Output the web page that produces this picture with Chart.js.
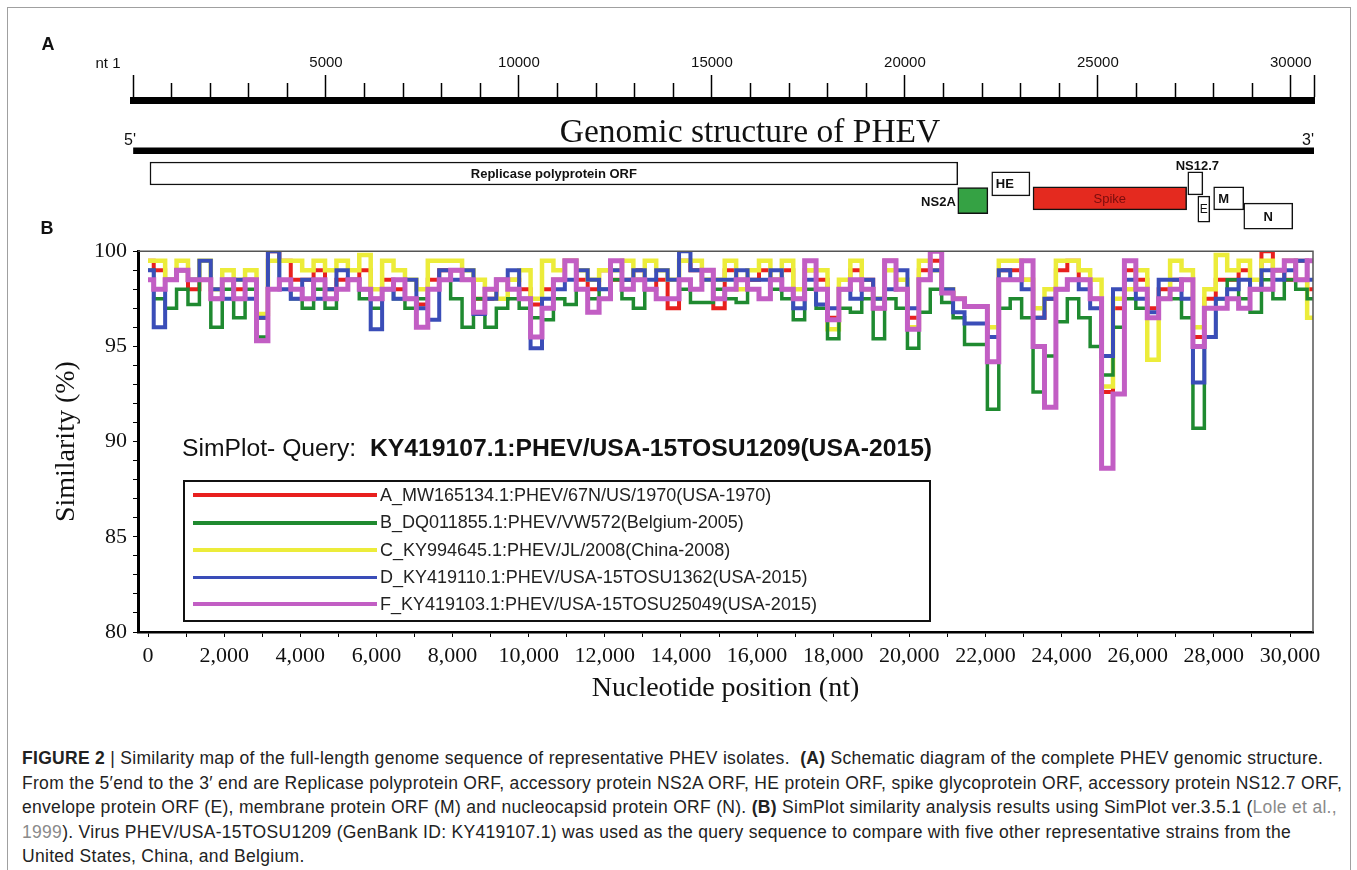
<!DOCTYPE html>
<html>
<head>
<meta charset="utf-8">
<script src="https://cdn.jsdelivr.net/npm/chart.js@4"></script>
<style>
  html, body { margin: 0; padding: 0; background: #fff; }
  body { width: 1357px; height: 870px; position: relative; overflow: hidden; font-family: "Liberation Sans", Arial, sans-serif; color: #111; }
  .frame { position: absolute; left: 7px; top: 7px; width: 1344px; height: 900px; border: 1px solid #a0a0a0; box-sizing: border-box; }
  canvas { position: absolute; left: 0; }
  .t { position: absolute; white-space: nowrap; line-height: 1; transform: translate(-50%, -50%); }
  .panel { font-weight: bold; font-size: 18px; }
  #query { position: absolute; left: 182px; top: 434px; font-size: 24.7px; white-space: nowrap; }
  #legend { position: absolute; left: 183px; top: 480px; width: 748px; height: 142px; border: 2px solid #111; box-sizing: border-box; }
  .row { position: absolute; left: 8px; height: 20px; white-space: nowrap; font-size: 18px; color: #222; }
  .row i { display: inline-block; width: 184px; vertical-align: middle; margin-right: 3px; }
  .row span { vertical-align: middle; }
  #caption { position: absolute; left: 22px; top: 746px; font-size: 17.5px; letter-spacing: 0.3px; line-height: 24.5px; color: #222; white-space: nowrap; }
  #caption .ref { color: #8a8a8a; }
</style>
</head>
<body>
<div class="frame"></div>

<canvas id="genome" width="1357" height="240" style="top:0"></canvas>
<canvas id="simplot" width="1357" height="480" style="top:232px"></canvas>

<div class="t panel" style="left:48px; top:44px">A</div>
<div class="t panel" style="left:47px; top:228px">B</div>
<div class="t" style="left:108px; top:62px; font-size:15px">nt 1</div>
<div class="t" style="left:750px; top:131px; font-family:'Liberation Serif', serif; font-size:33.5px">Genomic structure of PHEV</div>
<div class="t" style="left:130px; top:140px; font-size:16px">5'</div>
<div class="t" style="left:1308px; top:140px; font-size:16px">3'</div>

<div id="query">SimPlot- Query:&nbsp; <b>KY419107.1:PHEV/USA-15TOSU1209(USA-2015)</b></div>
<div id="legend"></div>

<div id="caption">
<div><b>FIGURE 2</b> | Similarity map of the full-length genome sequence of representative PHEV isolates.&nbsp; <b>(A)</b> Schematic diagram of the complete PHEV genomic structure.</div>
<div>From the 5′end to the 3′ end are Replicase polyprotein ORF, accessory protein NS2A ORF, HE protein ORF, spike glycoprotein ORF, accessory protein NS12.7 ORF,</div>
<div>envelope protein ORF (E), membrane protein ORF (M) and nucleocapsid protein ORF (N). <b>(B)</b> SimPlot similarity analysis results using SimPlot ver.3.5.1 (<span class="ref">Lole et al.,</span></div>
<div><span class="ref">1999</span>). Virus PHEV/USA-15TOSU1209 (GenBank ID: KY419107.1) was used as the query sequence to compare with five other representative strains from the</div>
<div>United States, China, and Belgium.</div>
</div>

<script>
// ---- panel A: genome map ----
const genomeLength = 30600;
const orfNames = ['Replicase polyprotein ORF', 'NS2A', 'HE', 'Spike', 'NS12.7', 'E', 'M', 'N'];
const orfStart = [440, 21370, 22250, 23320, 27330, 27590, 28000, 28780];
const orfEnd = [21370, 22150, 23240, 27300, 27720, 27900, 28780, 30050];

// ---- panel B: SimPlot similarity (%) ----
const windowStep = 300;  // nt between window centres
const seriesNames = [
  'A_MW165134.1:PHEV/67N/US/1970(USA-1970)',
  'B_DQ011855.1:PHEV/VW572(Belgium-2005)',
  'C_KY994645.1:PHEV/JL/2008(China-2008)',
  'D_KY419110.1:PHEV/USA-15TOSU1362(USA-2015)',
  'F_KY419103.1:PHEV/USA-15TOSU25049(USA-2015)'
];
const simA = [99.5,99,98.5,99,98,98.5,97.5,98.5,98,98.5,
  96.5,100,99.5,98.5,98.5,99,98,98.5,98.5,99,
  97.5,98.5,98,97.5,97.2,98.5,99,99,98.5,97.5,
  97.5,98.5,98.5,98,97.2,98,98.5,99.5,98.5,98,
  99,98.5,98.5,99,98,98.5,97,99.5,99,99,
  97,99,98.5,98.5,99,98.5,99,97.5,99,98.5,
  96.5,98,99,98.5,97,99.5,98,96.5,99,99.5,
  98,97.5,97.1,97.1,95.5,99,99,98.5,96.5,97.5,
  99,99.5,98.5,97.5,92.6,97,99,98.5,97,98,
  98.5,98.5,95.5,97.5,98.5,98.5,99,98,100,99,
  98.5,99.5,98];
const simB = [99,97.5,97,98,97.2,98.5,96,98,96.5,98,
  95.5,100,98.5,97.5,97,98,97,98,98.5,97.5,
  97,98,97.5,97,97.5,98,98.5,97.5,96,97.5,
  96,97,97.5,97,96.5,96.4,97.5,97.2,98,97.5,
  98,98.5,97.5,97,98,97.5,97.5,98,97.3,97.3,
  98,97.5,97.3,98,97.5,98,97.5,96.4,98,97,
  95.4,97,96.8,97.5,95.4,97.5,97,94.9,96.8,98,
  97.3,96.5,95.1,95.1,91.7,97,97.5,96.5,92.6,94.5,
  96.3,97.5,96.5,95,93.5,96,97.5,97,96.5,97.5,
  97.5,96.5,90.7,95.5,97.5,98.5,97.5,96.8,98.5,97.5,
  98.5,98,97.5];
const simC = [99.5,99.5,98.5,99.5,98.5,99.5,98,99,98.5,99,
  96.7,99.5,99.5,99.5,99,99.5,99,99.5,99,99.8,
  98,99.5,99,98.5,98,99.5,99.5,99.5,99,98.5,
  98,97.5,98.5,99,97.5,99.5,99,99.5,99,98.5,
  99,99,99.5,98.5,99.5,99,98.5,99.5,99.5,98.5,
  98.5,99.5,98,99,99.5,98.5,99.5,98,99,99,
  95.9,98.5,99.5,98,97.5,99,98.5,96,99.5,99,
  98,97.5,97.1,97.1,96,99.5,99.5,98.5,97,98,
  99.5,99.5,99,98.5,92.9,97.5,98,99,94.3,97.5,
  99.5,99,96,98,99.8,99,99.5,98.5,99.5,99,
  99.5,98.5,96.5];
const simD = [99,96,98.5,99,98.5,99.5,98,97.5,98.5,97.5,
  96.5,100,98,97.5,98.5,97.5,98,99,98.5,98,
  95.9,98,97.5,98.5,97,96.4,99,98.5,99,96.7,
  97.5,98.5,99,97.5,94.9,97.5,98,98.5,99,98.5,
  98,99,98.5,99,98.5,99,98.5,100,99,98.5,
  98.5,98.5,99,98.5,98.5,99,98,97,98.5,97.2,
  97,98,97.5,98.5,97.5,98,99,97,98.5,99,
  98,96.8,96.2,96.2,95.5,99,98.5,98,96.5,97.5,
  98,98.5,98,97,94.5,98,98.5,97.5,96.8,98.5,
  98.5,97.5,93.1,95.5,97.5,98,98.5,98,99,98.5,
  99,99.5,98.5];
const simF = [98.5,98,98.5,99,98.5,98.5,97.5,98.5,97.5,98.5,
  95.3,98,98.5,98,97.5,98.5,97.5,98,98.5,98,
  97.5,98,98.5,97.5,96,98,98.5,99,98.5,96.8,
  98,98.5,98,97.5,95.5,97,98.5,99.5,98,96.8,
  97.5,99.5,98,98.5,98,97.5,97.5,98.5,98,99,
  97.5,98,98.5,98,97.5,98.5,98,97.5,99.5,98,
  96.4,98,98.5,98,97,99.5,98,95.9,98.5,100,
  97.8,97.5,97.1,97.1,94.2,98.5,98.5,99.5,95,91.8,
  98,98.5,98.5,97.5,88.6,92.5,99.5,98,96.5,97.5,
  98,98.5,95,97,97,97.5,97,98,98,99,
  99.5,98.5,99.5];

const serif = "'Liberation Serif', 'Times New Roman', serif";
const sans = "'Liberation Sans', Arial, sans-serif";

// tick marks every 1000 nt
const rulerTicks = [];
for (let v = 0; v <= 30000; v += 1000) rulerTicks.push(v);

// ---------- panel A ----------
// lane (row below the genome line) and box height for each ORF
const orfLayout = [
  { lane: 0.94, thick: 23, fill: '#ffffff', label: 'inside', font: 'bold 13px ' + sans, color: '#111' },
  { lane: 2.06, thick: 26, fill: '#35a244', label: 'left', font: 'bold 13px ' + sans, color: '#111' },
  { lane: 1.37, thick: 24, fill: '#ffffff', label: 'inside', dx: -6, font: 'bold 13px ' + sans, color: '#111' },
  { lane: 1.97, thick: 23, fill: '#e42a1f', label: 'inside', font: '13px ' + sans, color: '#7a0d0d' },
  { lane: 1.35, thick: 23, fill: '#ffffff', label: 'above', font: 'bold 13px ' + sans, color: '#111' },
  { lane: 2.41, thick: 26, fill: '#ffffff', label: 'inside', font: '12px ' + sans, color: '#111' },
  { lane: 1.97, thick: 23, fill: '#ffffff', label: 'inside', dx: -5, font: 'bold 13px ' + sans, color: '#111' },
  { lane: 2.70, thick: 26, fill: '#ffffff', label: 'inside', font: 'bold 13px ' + sans, color: '#111' }
];

const orfLabels = {
  id: 'orfLabels',
  afterDatasetsDraw(chart) {
    const ctx = chart.ctx;
    ctx.save();
    ctx.textBaseline = 'middle';
    orfNames.forEach((name, i) => {
      const bar = chart.getDatasetMeta(i + 1).data[0];
      const st = orfLayout[i];
      const left = Math.min(bar.x, bar.base), right = Math.max(bar.x, bar.base);
      ctx.font = st.font;
      ctx.fillStyle = st.color;
      if (st.label === 'inside') {
        ctx.textAlign = 'center';
        ctx.fillText(name, (left + right) / 2 + (st.dx || 0), bar.y + 1);
      } else if (st.label === 'left') {
        ctx.textAlign = 'right';
        ctx.fillText(name, left - 2, bar.y + 2);
      } else {
        ctx.textAlign = 'center';
        ctx.fillText(name, (left + right) / 2 + 2, bar.y - bar.height / 2 - 6);
      }
    });
    ctx.restore();
  }
};

const genomeSets = [{
  data: [{ x: [0, genomeLength], y: 0 }],
  backgroundColor: '#000', borderWidth: 0, barThickness: 6, grouped: false
}];
orfNames.forEach((name, i) => {
  genomeSets.push({
    label: name,
    data: [{ x: [orfStart[i], orfEnd[i]], y: orfLayout[i].lane }],
    backgroundColor: orfLayout[i].fill,
    borderColor: '#111',
    borderWidth: 1.5,
    borderSkipped: false,
    barThickness: orfLayout[i].thick,
    grouped: false
  });
});

new Chart(document.getElementById('genome'), {
  type: 'bar',
  data: { datasets: genomeSets },
  options: {
    indexAxis: 'y',
    responsive: false,
    animation: false,
    devicePixelRatio: 1,
    layout: { padding: { left: 133, right: 43, top: 0, bottom: 7 } },
    plugins: { legend: { display: false }, tooltip: { enabled: false } },
    scales: {
      x: {
        type: 'linear',
        position: 'top',
        min: 0,
        max: genomeLength,
        afterBuildTicks(s) { s.ticks = rulerTicks.concat([genomeLength]).map(v => ({ value: v })); },
        afterFit(s) { s.height = 100; },
        border: { display: true, width: 7, color: '#000' },
        grid: {
          drawOnChartArea: false,
          tickLength: 25,
          tickWidth: 1.5,
          tickColor: '#000',
          tickBorderDash: (c) => (c.tick && (c.tick.value % 5000 === 0 || c.tick.value === genomeLength)) ? [] : [0, 8, 40]
        },
        ticks: {
          autoSkip: false,
          maxRotation: 0,
          padding: 3,
          color: '#111',
          font: { family: sans, size: 15 },
          callback: (v) => (v > 0 && v % 5000 === 0) ? String(v) : ''
        }
      },
      y: { type: 'linear', display: false, offset: false, reverse: true, min: -2.1, max: 3.4 }
    }
  },
  plugins: [orfLabels]
});

// ---------- panel B ----------
const seriesValues = [simA, simB, simC, simD, simF];
const seriesColors = ['#e8201e', '#1f8a30', '#ecec3a', '#3a4db8', '#c25ec4'];
const seriesWidths = [4, 3.5, 4.5, 4, 5];
const seriesOrder = [5, 3, 4, 2, 1];   // magenta drawn on top

const plotFrame = {
  id: 'plotFrame',
  afterDatasetsDraw(chart) {
    const a = chart.chartArea, ctx = chart.ctx;
    ctx.save();
    ctx.strokeStyle = '#555';
    ctx.lineWidth = 1.5;
    ctx.beginPath();
    ctx.moveTo(a.left, a.top);
    ctx.lineTo(a.right, a.top);
    ctx.lineTo(a.right, a.bottom);
    ctx.stroke();
    ctx.restore();
  }
};

new Chart(document.getElementById('simplot'), {
  type: 'line',
  data: {
    datasets: seriesValues.map((vals, k) => ({
      label: seriesNames[k],
      data: vals.map((v, i) => ({ x: i * windowStep, y: v })),
      borderColor: seriesColors[k],
      borderWidth: seriesWidths[k],
      stepped: 'middle',
      pointRadius: 0,
      fill: false,
      order: seriesOrder[k]
    }))
  },
  options: {
    responsive: false,
    animation: false,
    devicePixelRatio: 1,
    layout: { padding: { left: 0, right: 44, top: 12, bottom: 0 } },
    plugins: { legend: { display: false }, tooltip: { enabled: false } },
    scales: {
      x: {
        type: 'linear',
        min: -263,
        max: 30604,
        afterBuildTicks(s) { s.ticks = rulerTicks.map(v => ({ value: v })); },
        afterFit(s) { s.height = 80; },
        border: { width: 2.5, color: '#000' },
        grid: { drawOnChartArea: false, tickLength: 5, tickColor: '#000', tickWidth: 1 },
        ticks: {
          autoSkip: false,
          maxRotation: 0,
          padding: 6,
          color: '#111',
          font: { family: serif, size: 22 },
          callback: (v) => v % 2000 === 0 ? v.toLocaleString('en-US') : ''
        },
        title: {
          display: true,
          text: 'Nucleotide position (nt)',
          color: '#111',
          font: { family: serif, size: 28 },
          padding: { top: 0, bottom: 7 }
        }
      },
      y: {
        type: 'linear',
        min: 80,
        max: 100,
        afterFit(s) { s.width = 138; },
        border: { width: 3, color: '#000' },
        grid: { drawOnChartArea: false, tickLength: 5, tickColor: '#000', tickWidth: 1 },
        ticks: {
          stepSize: 1,
          autoSkip: false,
          padding: 6,
          color: '#111',
          font: { family: serif, size: 22 },
          callback: (v) => v % 5 === 0 ? String(v) : ''
        },
        title: {
          display: true,
          text: 'Similarity (%)',
          color: '#111',
          font: { family: serif, size: 28 },
          padding: { top: 50, bottom: 0 }
        }
      }
    }
  },
  plugins: [plotFrame]
});

// legend box
const legend = document.getElementById('legend');
seriesNames.forEach((name, k) => {
  const row = document.createElement('div');
  row.className = 'row';
  row.style.top = (2 + k * 27.3) + 'px';
  row.innerHTML = '<i style="height:' + (k === 3 ? 3 : 4) + 'px;background:' + seriesColors[k] + '"></i><span>' + name + '</span>';
  legend.appendChild(row);
});
</script>
</body>
</html>
